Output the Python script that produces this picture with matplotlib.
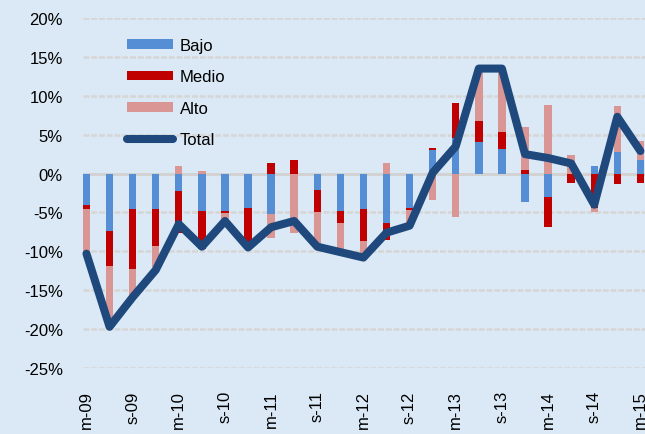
import numpy as np
import matplotlib
matplotlib.use("Agg")
import matplotlib.pyplot as plt
from matplotlib.patches import Patch
from matplotlib.lines import Line2D

plt.rcParams['font.family'] = ['Liberation Sans', 'DejaVu Sans']

labels = ['m-09', 's-09', 'm-10', 's-10', 'm-11', 's-11', 'm-12',
          's-12', 'm-13', 's-13', 'm-14', 's-14', 'm-15']

bajo = [-4.1, -7.4, -4.6, -4.6, -2.3, -4.8, -4.8, -4.4, -5.2, 0.0, -2.1, -4.8, -4.6,
        -6.4, -4.4, 3.0, 4.6, 4.0, 3.1, -3.6, -3.0, 0.0, 1.0, 2.8, 1.7]
medio = [-0.4, -4.5, -7.7, -4.7, -5.3, -4.9, -0.3, -4.4, 1.3, 1.7, -2.9, -1.5, -4.1,
         -2.1, -0.3, 0.3, 4.5, 2.8, 2.2, 0.5, -3.9, -1.2, -4.4, -1.4, -1.2]
alto = [-5.6, -7.4, -3.3, -2.7, 1.0, 0.3, -0.8, -0.6, -3.1, -7.7, -4.3, -3.8, -2.1,
        1.3, -1.9, -3.4, -5.6, 6.4, 7.9, 5.5, 8.8, 2.4, -0.6, 5.9, 2.5]
total = [-10.3, -19.7, -15.9, -12.4, -6.5, -9.4, -6.1, -9.5, -6.9, -6.1, -9.4, -10.1, -10.8,
         -7.6, -6.7, 0.1, 3.5, 13.5, 13.5, 2.5, 2.0, 1.3, -4.0, 7.3, 2.9]

c_bajo = '#558ed5'
c_medio = '#c00000'
c_alto = '#d99694'
c_total = '#1f497d'
bg = '#dbe9f6'

fig = plt.figure(figsize=(6.45, 4.35), dpi=100, facecolor=bg)
ax = fig.add_axes([0.1287, 0.1517, 0.8713, 0.8046])
ax.set_facecolor(bg)

x = np.arange(len(total))
w = 0.32
pos_base = np.zeros(len(x))
neg_base = np.zeros(len(x))
for vals, col in [(bajo, c_bajo), (medio, c_medio), (alto, c_alto)]:
    v = np.array(vals)
    bottom = np.where(v >= 0, pos_base, neg_base)
    ax.bar(x, v, w, bottom=bottom, color=col, zorder=3)
    pos_base = pos_base + np.where(v > 0, v, 0)
    neg_base = neg_base + np.where(v < 0, v, 0)

ax.plot(x, total, color=c_total, lw=5.8, solid_joinstyle='round',
        solid_capstyle='round', zorder=4, clip_on=False)

ax.set_ylim(-25, 20)
ax.set_xlim(-0.15, 24.2)
yt = np.arange(-25, 21, 5)
ax.set_yticks(yt)
ax.set_yticklabels([f'{v}%' for v in yt], fontsize=12)
for v in yt:
    if v == 0:
        ax.axhline(0, color='#d2d2d2', lw=2.2, zorder=2)
    else:
        ax.axhline(v, color='#d6d6d6', lw=1.8, dashes=(2.4, 0.7), zorder=1)

ax.set_xticks(x[::2])
ax.set_xticklabels(labels, rotation=90, fontsize=12, va='top')
ax.tick_params(length=0)
ax.tick_params(axis='x', pad=16)
ax.tick_params(axis='y', pad=14.5)
for s in ax.spines.values():
    s.set_visible(False)

handles = [Patch(facecolor=c_bajo, label='Bajo'),
           Patch(facecolor=c_medio, label='Medio'),
           Patch(facecolor=c_alto, label='Alto'),
           Line2D([0], [0], color=c_total, lw=5.8, solid_capstyle='round', label='Total')]
ax.legend(handles=handles, loc='upper left', bbox_to_anchor=(127 / 645, 1 - 39 / 435),
          bbox_transform=fig.transFigure, frameon=False, fontsize=12,
          handlelength=2.75, handleheight=0.5, handletextpad=0.4,
          labelspacing=0.98, borderpad=0, borderaxespad=0)

fig.savefig('out.png', dpi=100, facecolor=bg)
